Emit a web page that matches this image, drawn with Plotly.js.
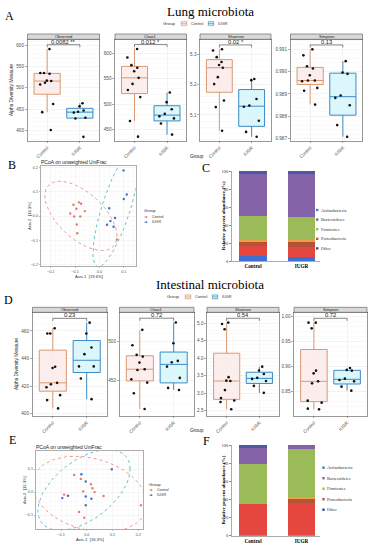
<!DOCTYPE html>
<html><head><meta charset="utf-8">
<script src="https://cdn.plot.ly/plotly-3.0.1.min.js"></script>
<style>html,body{margin:0;padding:0;background:#fff}#c{width:373px;height:550px}</style>
</head><body><div id="c"></div>
<script>
// ================= DATA =================
const groups = ['Control', 'IUGR'];
const metrics = ['Observed', 'Chao1', 'Shannon', 'Simpson'];

// Lung alpha diversity
const lungObservedControl = [591, 533, 535, 535, 516, 508, 512, 517, 462, 443, 401];
const lungObservedIUGR    = [464, 457, 447, 444, 442, 428, 430, 385];
const lungChao1Control    = [609, 592, 577, 572, 565, 552, 540, 528, 514, 467, 436];
const lungChao1IUGR       = [523, 504, 490, 481, 476, 472, 462, 440];
const lungShannonControl  = [5.313, 5.317, 5.291, 5.275, 5.265, 5.256, 5.225, 5.202, 5.148, 5.126, 5.048];
const lungShannonIUGR     = [5.219, 5.215, 5.153, 5.127, 5.131, 5.081, 5.044, 5.028];
const lungSimpsonControl  = [0.99100, 0.99073, 0.99024, 0.99014, 0.98984, 0.98957, 0.98960, 0.98960, 0.98914, 0.98927, 0.98852];
const lungSimpsonIUGR     = [0.99047, 0.98996, 0.98990, 0.98882, 0.98893, 0.98849, 0.98760, 0.98708];
const lungPvalues = ['0.0082 **', '0.012 *', '0.02 *', '0.13'];

// Intestinal alpha diversity
const gutObservedControl = [461.9, 458.1, 458.1, 434.1, 433.1, 422.4, 421.4, 419.2, 413.5, 409.9, 403.9];
const gutObservedIUGR    = [466, 458.1, 448, 443.2, 434.3, 434.3, 425.5, 410.6];
const gutChao1Control    = [514.5, 494.9, 482.5, 480.3, 472.6, 464.1, 463.2, 451.3, 447, 433.3, 413.2];
const gutChao1IUGR       = [523.9, 497.4, 474.8, 473.1, 467.5, 453, 440.2, 437.6];
const gutShannonControl  = [5.02, 4.98, 4.83, 3.46, 3.35, 3.36, 3.09, 2.86, 2.79, 2.75, 2.54];
const gutShannonIUGR     = [3.76, 3.65, 3.41, 3.55, 3.44, 3.35, 3.21, 3.01];
const gutSimpsonControl  = [0.9867, 0.9867, 0.9753, 0.8907, 0.8853, 0.8653, 0.8693, 0.8307, 0.8267, 0.8147, 0.8133];
const gutSimpsonIUGR     = [0.896, 0.8907, 0.892, 0.872, 0.8747, 0.8693, 0.8587, 0.8507];
const gutPvalues = ['0.23', '0.72', '0.54', '0.72'];

// PCoA (unweighted UniFrac) coordinates
const lungPcoaControlX = [-0.084, -0.075, -0.107, -0.095, -0.104, -0.079, -0.093, -0.091, 0.072, -0.060, -0.120];
const lungPcoaControlY = [0.056, 0.050, 0.046, 0.030, -0.002, -0.002, -0.035, -0.071, -0.096, 0.020, 0.010];
const lungPcoaIUGRX    = [0.099, 0.112, 0.100, 0.040, 0.064, 0.045, 0.031, 0.058];
const lungPcoaIUGRY    = [0.187, 0.088, 0.070, 0.032, -0.008, -0.020, -0.036, -0.044];
const gutPcoaControlX  = [-0.049, -0.023, 0.016, 0.022, -0.088, -0.014, 0.065, 0.210, -0.030, -0.010, 0.030];
const gutPcoaControlY  = [0.074, 0.057, 0.034, 0.017, -0.011, 0.003, -0.017, -0.057, -0.086, -0.111, 0.000];
const gutPcoaIUGRX     = [0.097, -0.021, -0.004, -0.073, -0.095, -0.004, 0.018, -0.004];
const gutPcoaIUGRY     = [0.099, 0.077, 0.046, -0.016, -0.026, -0.019, -0.029, -0.057];
const lungAxisLabels = ['Axis.1  [19.6%]', 'Axis.2  [13.3%]'];
const gutAxisLabels  = ['Axis.1  [16.3%]', 'Axis.2  [12.3%]'];

// Relative abundance (%) stacked bars, bottom -> top
const phyla = ['Other', 'Proteobacteria', 'Minor A', 'Minor B', 'Firmicutes', 'Bacteroidetes', 'Actinobacteria'];
const legendPhyla = ['Actinobacteria', 'Bacteroidetes', 'Firmicutes', 'Proteobacteria', 'Other'];
const lungAbundControl = [6, 10.5, 4.5, 2, 27, 46.5, 3.5];
const lungAbundIUGR    = [5, 11, 5, 2, 26, 47.5, 3.5];
const gutAbundControl  = [1, 34, 0, 0, 44, 18, 3];
const gutAbundIUGR     = [0.5, 35.5, 5, 2, 53, 4, 0];

// ================= STYLE / LAYOUT =================
const W = 373, H = 550;
const PX = x => x / W, PY = y => 1 - y / H;
const SANS = 'Liberation Sans, Arial, sans-serif';
const SERIF = 'Liberation Serif, Times New Roman, serif';
const colCtrlLine = '#d99a72', colCtrlFill = 'rgba(252,232,232,0.75)';
const colIugrLine = '#3d8ac4', colIugrFill = 'rgba(214,246,252,0.85)';
const colCtrlPt = '#f0766b', colIugrPt = '#3f6fd1';
const colCtrlEll = '#e8837a', colIugrEll = '#3fb2c8';
const phylaColors = ['#3f6fd0', '#e5463d', '#b2533a', '#f59a45', '#9bbb59', '#8563a8', '#4a5aa8'];
const legendColors = {'Actinobacteria': '#3f7fd0', 'Bacteroidetes': '#8064a2', 'Firmicutes': '#9bbb59', 'Proteobacteria': '#c0504d', 'Other': '#3949a8'};

const traces = [];
const layout = {
  width: W, height: H, margin: {l: 0, r: 0, t: 0, b: 0},
  paper_bgcolor: '#fff', plot_bgcolor: '#fff', showlegend: false,
  font: {family: SANS, size: 5, color: '#4d4d4d'},
  barmode: 'stack', boxmode: 'overlay',
  annotations: [], shapes: []
};
const ann = a => layout.annotations.push(Object.assign({showarrow: false, xref: 'paper', yref: 'paper', borderpad: 0}, a));
const shp = s => layout.shapes.push(s);

// facet geometry (pixels)
const lungPanelsX = [[27.5, 99.5], [115, 186.5], [200, 271], [290.5, 362.5]];
const lungStrip = [34, 39.3], lungPlotBottom = 140.7;
const lungRanges = [[376, 614], [428, 628], [5.015, 5.35], [0.98690, 0.99145]];
const lungDticks = [50, 50, 0.1, 0.001];
const lungFormats = ['d', 'd', '.1f', '.3f'];
const gutPanelsX = [[32.5, 107], [119.5, 194], [207, 279], [294, 367]];
const gutStrip = [307.3, 312.3], gutPlotBottom = 415.7;
const gutRanges = [[398.6, 473.5], [404.6, 537], [2.357, 5.315], [0.8006, 1.0074]];
const gutDticks = [20, 50, 0.5, 0.05];
const gutFormats = ['d', 'd', '.1f', '.2f'];

let axN = 0;
function newAxes(xdom, ydom, xopt, yopt) {
  axN++;
  const xs = axN === 1 ? 'xaxis' : 'xaxis' + axN;
  const ys = axN === 1 ? 'yaxis' : 'yaxis' + axN;
  layout[xs] = Object.assign({domain: [PX(xdom[0]), PX(xdom[1])], anchor: 'y' + (axN === 1 ? '' : axN), fixedrange: true}, xopt);
  layout[ys] = Object.assign({domain: [PY(ydom[1]), PY(ydom[0])], anchor: 'x' + (axN === 1 ? '' : axN), fixedrange: true}, yopt);
  return {x: 'x' + (axN === 1 ? '' : axN), y: 'y' + (axN === 1 ? '' : axN)};
}

function facetRow(data, pvals, panelsX, strip, bottom, ranges, dticks, fmts) {
  data.forEach((pair, i) => {
    const gridCommon = {showgrid: true, gridcolor: '#ebebeb', gridwidth: 0.6, zeroline: false,
      showline: true, mirror: true, linecolor: '#555', linewidth: 0.6,
      ticks: 'outside', ticklen: 2, tickcolor: '#555', tickwidth: 0.5};
    const a = newAxes(panelsX[i], [strip[1], bottom],
      Object.assign({type: 'category', categoryarray: groups, categoryorder: 'array', range: [-0.6, 1.6],
        tickangle: -45, tickfont: {size: 4.6, color: '#4d4d4d'}}, gridCommon),
      Object.assign({range: ranges[i], dtick: dticks[i], tickformat: fmts[i],
        tickfont: {size: 4.6, color: '#4d4d4d'},
        minor: {showgrid: true, gridcolor: '#f5f5f5', gridwidth: 0.5}}, gridCommon));
    const specs = [[pair[0], groups[0], colCtrlLine, colCtrlFill], [pair[1], groups[1], colIugrLine, colIugrFill]];
    specs.forEach(([vals, g, lc, fc]) => {
      traces.push({type: 'box', x: vals.map(() => g), y: vals, name: g, xaxis: a.x, yaxis: a.y,
        boxpoints: 'all', jitter: 0.75, pointpos: 0, quartilemethod: 'inclusive',
        marker: {color: '#111', size: 2.6}, line: {color: lc, width: 1}, fillcolor: fc,
        whiskerwidth: 0, width: 0.8, showlegend: false});
    });
    // strip
    shp({type: 'rect', xref: 'paper', yref: 'paper', x0: PX(panelsX[i][0]), x1: PX(panelsX[i][1]),
      y0: PY(strip[1]), y1: PY(strip[0]), fillcolor: '#d9d9d9', line: {color: '#555', width: 0.6}});
    ann({x: PX((panelsX[i][0] + panelsX[i][1]) / 2), y: PY((strip[0] + strip[1]) / 2), text: metrics[i],
      font: {size: 4.0, color: '#1a1a1a'}, xanchor: 'center', yanchor: 'middle'});
    // significance bracket, computed from data
    const all = pair[0].concat(pair[1]);
    const mx = Math.max(...all), mn = Math.min(...all);
    const yb = mx + 0.05 * (mx - mn);
    const tip = 0.025 * (ranges[i][1] - ranges[i][0]);
    const ln = {color: '#555', width: 0.7};
    shp({type: 'line', xref: a.x, yref: a.y, x0: 0, x1: 1, y0: yb, y1: yb, line: ln});
    shp({type: 'line', xref: a.x, yref: a.y, x0: 0, x1: 0, y0: yb, y1: yb - tip, line: ln});
    shp({type: 'line', xref: a.x, yref: a.y, x0: 1, x1: 1, y0: yb, y1: yb - tip, line: ln});
    ann({xref: a.x + ' domain', yref: a.y, x: 0.5, y: yb, text: pvals[i], yanchor: 'middle', xanchor: 'center',
      font: {size: 5.8, color: '#222'}, yshift: 2.9});
  });
}

facetRow([[lungObservedControl, lungObservedIUGR], [lungChao1Control, lungChao1IUGR],
  [lungShannonControl, lungShannonIUGR], [lungSimpsonControl, lungSimpsonIUGR]],
  lungPvalues, lungPanelsX, lungStrip, lungPlotBottom, lungRanges, lungDticks, lungFormats);
facetRow([[gutObservedControl, gutObservedIUGR], [gutChao1Control, gutChao1IUGR],
  [gutShannonControl, gutShannonIUGR], [gutSimpsonControl, gutSimpsonIUGR]],
  gutPvalues, gutPanelsX, gutStrip, gutPlotBottom, gutRanges, gutDticks, gutFormats);

// ---- ellipse (95%, multivariate normal with F quantile) ----
function ellipse(xs, ys) {
  const n = xs.length;
  const mx = xs.reduce((s, v) => s + v, 0) / n, my = ys.reduce((s, v) => s + v, 0) / n;
  let sxx = 0, syy = 0, sxy = 0;
  for (let i = 0; i < n; i++) { sxx += (xs[i] - mx) ** 2; syy += (ys[i] - my) ** 2; sxy += (xs[i] - mx) * (ys[i] - my); }
  sxx /= n - 1; syy /= n - 1; sxy /= n - 1;
  const d = n - 1, p = 0.95;
  const fq = d / 2 * (Math.pow(1 - p, -2 / d) - 1);
  const r = Math.sqrt(2 * fq);
  const a = Math.sqrt(sxx), b = sxy / a, c = Math.sqrt(Math.max(syy - b * b, 0));
  const ex = [], ey = [];
  for (let k = 0; k <= 100; k++) {
    const t = 2 * Math.PI * k / 100;
    ex.push(mx + r * a * Math.cos(t));
    ey.push(my + r * (b * Math.cos(t) + c * Math.sin(t)));
  }
  return [ex, ey];
}

function pcoaPanel(box, title, ctrlX, ctrlY, iugrX, iugrY, xr, yr, dt, axisLabels, legPos) {
  const common = {showgrid: true, gridcolor: '#ececec', gridwidth: 0.5, zeroline: false, showline: true, mirror: true,
    linecolor: '#777', linewidth: 0.6, ticks: 'outside', ticklen: 1.5, tickcolor: '#777', tickwidth: 0.5,
    tickfont: {size: 3.8, color: '#555'}, dtick: 0.1, tickformat: '.1f',
    minor: {showgrid: true, gridcolor: '#f6f6f6', gridwidth: 0.4}};
  const a = newAxes([box[0], box[1]], [box[2], box[3]], Object.assign({range: xr}, common), Object.assign({range: yr}, common));
  const eC = ellipse(ctrlX, ctrlY), eI = ellipse(iugrX, iugrY);
  traces.push({type: 'scatter', mode: 'lines', x: eC[0], y: eC[1], xaxis: a.x, yaxis: a.y, line: {color: colCtrlEll, width: 0.8, dash: 'dot'}, hoverinfo: 'skip'});
  traces.push({type: 'scatter', mode: 'lines', x: eI[0], y: eI[1], xaxis: a.x, yaxis: a.y, line: {color: colIugrEll, width: 0.8, dash: 'dot'}, hoverinfo: 'skip'});
  traces.push({type: 'scatter', mode: 'markers', x: ctrlX, y: ctrlY, name: 'Control', xaxis: a.x, yaxis: a.y, marker: {color: colCtrlPt, size: 2.4}, cliponaxis: false});
  traces.push({type: 'scatter', mode: 'markers', x: iugrX, y: iugrY, name: 'IUGR', xaxis: a.x, yaxis: a.y, marker: {color: colIugrPt, size: 2.4}, cliponaxis: false});
  ann({x: PX(box[0] - 1), y: PY(box[2] - 4), text: title, xanchor: 'left', yanchor: 'middle', font: {size: 5, color: '#222'}});
  ann({x: PX((box[0] + box[1]) / 2), y: PY(box[3] + 10), text: axisLabels[0], xanchor: 'center', yanchor: 'middle', font: {size: 4.2, color: '#333'}});
  ann({x: PX(box[0] - 12), y: PY((box[2] + box[3]) / 2), text: axisLabels[1], textangle: -90, xanchor: 'center', yanchor: 'middle', font: {size: 4.2, color: '#333'}});
  // legend
  const [lx, ly] = legPos;
  ann({x: PX(lx), y: PY(ly), text: 'Group', xanchor: 'left', yanchor: 'middle', font: {size: 4.2, color: '#333'}});
  [['Control', colCtrlPt], ['IUGR', colIugrPt]].forEach(([g, c], k) => {
    const yy = ly + 6 + k * 5.2;
    shp({type: 'line', xref: 'paper', yref: 'paper', x0: PX(lx + 1), x1: PX(lx + 6), y0: PY(yy), y1: PY(yy), line: {color: c, width: 0.6, dash: 'dot'}});
    shp({type: 'circle', xref: 'paper', yref: 'paper', x0: PX(lx + 2.6), x1: PX(lx + 4.4), y0: PY(yy - 0.9), y1: PY(yy + 0.9), fillcolor: c, line: {width: 0}});
    ann({x: PX(lx + 8), y: PY(yy), text: g, xanchor: 'left', yanchor: 'middle', font: {size: 3.6, color: '#333'}});
  });
}

pcoaPanel([41, 136, 166, 266], 'PCoA on unweighted UniFrac', lungPcoaControlX, lungPcoaControlY, lungPcoaIUGRX, lungPcoaIUGRY,
  [-0.24, 0.15], [-0.205, 0.205], 0.1, lungAxisLabels, [143, 211]);
pcoaPanel([36, 143, 451, 529], 'PCoA on unweighted UniFrac', gutPcoaControlX, gutPcoaControlY, gutPcoaIUGRX, gutPcoaIUGRY,
  [-0.197, 0.218], [-0.16, 0.178], 0.1, gutAxisLabels, [148, 484]);

function barPanel(box, ctrl, iugr, legTop, legStep, legX) {
  const a = newAxes([box[0], box[1]], [box[2], box[3]],
    {type: 'category', categoryarray: groups, categoryorder: 'array', range: [-0.44, 1.38], showline: true, linecolor: '#888', linewidth: 0.7,
      ticks: '', showgrid: false, zeroline: false, tickfont: {family: SERIF, size: 5.2, color: '#000', weight: 'bold'}},
    {range: [0, 100], dtick: 20, showline: true, linecolor: '#888', linewidth: 0.7, ticks: 'outside', ticklen: 2, tickcolor: '#888',
      showgrid: false, zeroline: false, tickfont: {family: SERIF, size: 4.4, color: '#333'}});
  phyla.forEach((ph, k) => {
    traces.push({type: 'bar', x: groups, y: [ctrl[k], iugr[k]], name: ph, xaxis: a.x, yaxis: a.y, width: 0.56,
      marker: {color: phylaColors[k], line: {width: 0}}});
  });
  ann({x: PX(box[0] - 8.5), y: PY((box[2] + box[3]) / 2), text: 'Relative percent abundance (%)', textangle: -90,
    xanchor: 'center', yanchor: 'middle', font: {family: SERIF, size: 5, color: '#000', weight: 'bold'}});
  legendPhyla.forEach((ph, k) => {
    const yy = legTop + k * legStep;
    shp({type: 'rect', xref: 'paper', yref: 'paper', x0: PX(legX), x1: PX(legX + 2.4), y0: PY(yy + 1.2), y1: PY(yy - 1.2), fillcolor: legendColors[ph], line: {width: 0}});
    ann({x: PX(legX + 3.5), y: PY(yy), text: ph, xanchor: 'left', yanchor: 'middle', font: {family: SERIF, size: 4.3, color: '#333'}});
  });
}
barPanel([231.7, 320, 171, 261], lungAbundControl, lungAbundIUGR, 210, 9.6, 316);
barPanel([231.7, 320, 445, 535.7], gutAbundControl, gutAbundIUGR, 467.7, 10.5, 322.3);

// ---- titles, letters, group legends ----
ann({x: PX(210), y: PY(11), text: 'Lung microbiota', font: {family: SERIF, size: 13, color: '#000'}, xanchor: 'center', yanchor: 'middle'});
ann({x: PX(210), y: PY(284), text: 'Intestinal microbiota', font: {family: SERIF, size: 13, color: '#000'}, xanchor: 'center', yanchor: 'middle'});
[['A', 9, 16], ['B', 12, 165], ['C', 206, 168], ['D', 8, 300], ['E', 12, 440], ['F', 206, 441]].forEach(([t, x, y]) =>
  ann({x: PX(x), y: PY(y), text: t, font: {family: SERIF, size: 12, color: '#000'}, xanchor: 'center', yanchor: 'middle'}));

function groupLegend(x0, y) {
  ann({x: PX(x0), y: PY(y), text: 'Group', xanchor: 'left', yanchor: 'middle', font: {size: 4.3, color: '#333'}});
  [['Control', colCtrlLine, colCtrlFill], ['IUGR', colIugrLine, colIugrFill]].forEach(([g, lc, fc], k) => {
    const kx = x0 + 18 + k * 27;
    shp({type: 'rect', xref: 'paper', yref: 'paper', x0: PX(kx), x1: PX(kx + 8), y0: PY(y + 3), y1: PY(y - 3), fillcolor: '#f2f2f2', line: {width: 0}});
    shp({type: 'rect', xref: 'paper', yref: 'paper', x0: PX(kx + 1.5), x1: PX(kx + 6.5), y0: PY(y + 1.8), y1: PY(y - 1.8), fillcolor: fc, line: {color: lc, width: 0.6}});
    shp({type: 'line', xref: 'paper', yref: 'paper', x0: PX(kx + 1.5), x1: PX(kx + 6.5), y0: PY(y), y1: PY(y), line: {color: lc, width: 0.6}});
    ann({x: PX(kx + 10), y: PY(y), text: g, xanchor: 'left', yanchor: 'middle', font: {size: 3.8, color: '#333'}});
  });
}
groupLegend(162, 23.5);
groupLegend(166, 296.8);

// axis titles for facet rows
ann({x: PX(12), y: PY((lungStrip[1] + lungPlotBottom) / 2), text: 'Alpha Diversity Measure', textangle: -90, xanchor: 'center', yanchor: 'middle', font: {size: 4.8, color: '#222'}});
ann({x: PX(197), y: PY(157), text: 'Group', xanchor: 'center', yanchor: 'middle', font: {size: 4.8, color: '#222'}});
ann({x: PX(16), y: PY((gutStrip[1] + gutPlotBottom) / 2), text: 'Alpha Diversity Measure', textangle: -90, xanchor: 'center', yanchor: 'middle', font: {size: 4.8, color: '#222'}});
ann({x: PX(197), y: PY(430), text: 'Group', xanchor: 'center', yanchor: 'middle', font: {size: 4.8, color: '#222'}});

Plotly.newPlot('c', traces, layout, {displayModeBar: false, staticPlot: true});
</script>
</body></html>
